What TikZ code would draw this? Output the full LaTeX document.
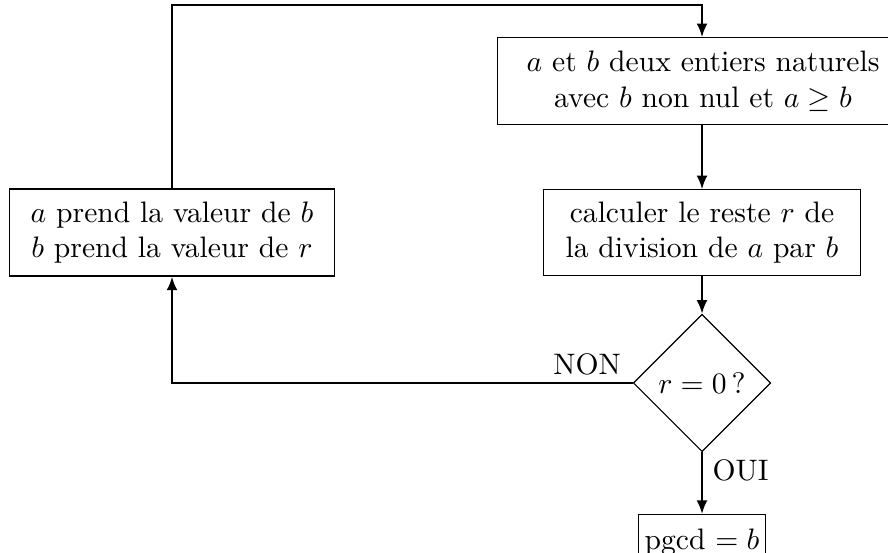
\documentclass[tikz,border=0pt]{standalone}
\usetikzlibrary{shapes.geometric,arrows.meta}
\begin{document}
\begin{tikzpicture}[x=0.3378pt,y=-0.3378pt,
  box/.style={draw,line width=0.4pt,align=center,inner sep=0pt},
  lbl/.style={inner sep=0pt},
  conn/.style={line width=0.75pt,-{Latex[length=4.6pt,width=3.7pt]}}]
\clip (0,0) rectangle (888,553);
\node[box,minimum width=138.6pt,minimum height=29.2pt] (init) at (703,81)
  {$a$ et $b$ deux entiers naturels\\avec $b$ non nul et $a\geq b$};
\node[box,minimum width=107.3pt,minimum height=28.8pt] (calc) at (702,232.5)
  {calculer le reste $r$ de\\la division de $a$ par $b$};
\node[box,minimum width=109.6pt,minimum height=29.4pt] (swap) at (172,232.5)
  {$a$ prend la valeur de $b$\\$b$ prend la valeur de $r$};
\node[draw,line width=0.4pt,diamond,aspect=1,inner sep=0pt,minimum size=46.4pt] (test) at (702,383) {$r=0\,?$};
\node[box,inner xsep=2.2pt,inner ysep=5pt,anchor=north] (res) at (702,514) {pgcd $=b$};
\node[lbl,anchor=base] (non) at (587,375) {NON};
\node[lbl,anchor=base west] (oui) at (712,481) {OUI};
\coordinate (tl) at (172,5);
\coordinate (tr) at (702,5);
\draw[conn] (swap.north) -- (tl) -- (tr) -- (init.north -| tr);
\draw[conn] (init.south -| calc.north) -- (calc.north);
\draw[conn] (calc.south) -- (test.north);
\draw[conn] (test.west) -| (swap.south);
\draw[conn] (test.south) -- (res.north);
\end{tikzpicture}
\end{document}
